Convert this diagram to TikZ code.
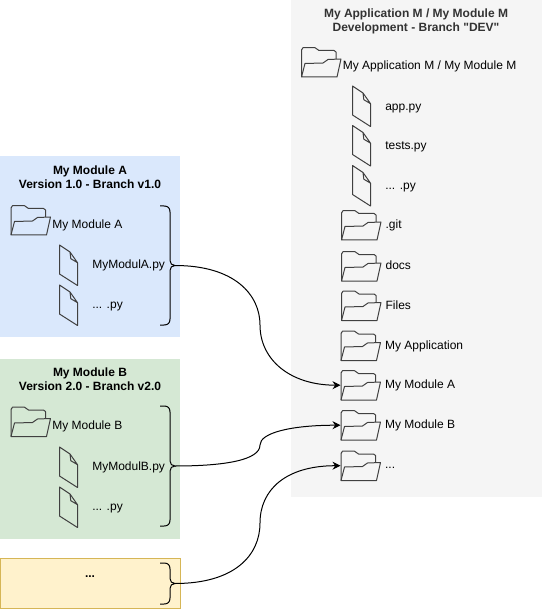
\documentclass[tikz,border=0pt]{standalone}
\usepackage{fontspec}
\setmainfont{Liberation Sans}[Ligatures=TeXOff]
\usepackage{xcolor}
\usetikzlibrary{arrows.meta, positioning}
\definecolor{panelgray}{HTML}{F5F5F5}
\definecolor{panelblue}{HTML}{DAE8FC}
\definecolor{panelgreen}{HTML}{D5E8D4}
\definecolor{panelyellow}{HTML}{FFF2CC}
\definecolor{borderyellow}{HTML}{D6B656}
\definecolor{iconline}{HTML}{404040}
\definecolor{titlegray}{HTML}{333333}
\tikzset{
    panel/.style={anchor=north west, inner sep=0pt, outer sep=0pt, minimum width=#1},
    paneltitle/.style={align=center, inner sep=0pt, font=\fontsize{12}{14}\selectfont\bfseries},
    itemlabel/.style={inner sep=0pt, text height=9pt, text depth=2.5pt, font=\fontsize{12}{14}\selectfont},
    iconstroke/.style={draw=iconline, line width=1pt, line join=round},
    bracket/.style={draw=black, line width=1pt},
    linkarrow/.style={draw=black, line width=1pt, -{Stealth[length=8pt, width=8pt]}}
}
% #1 extra keys for the text, #2 name, #3 position, #4 text
\newcommand{\foldericon}[4][]{%
    \node[anchor=north west, inner sep=0pt, minimum width=40pt, minimum height=30pt] (#2) at (#3) {};
    \draw[iconstroke, shift={(#2.north west)}]
        (0.5,30) -- (0.5,3) -- (2,0.7) -- (14,0.7) -- (18,3.5) -- (33,3.5) -- (35,5) -- (35,12);
    \draw[iconstroke, shift={(#2.north west)}]
        (0.5,30) -- (4,16.5) -- (22,16) -- (27,12.5) -- (40,12) -- (36,30) -- cycle;
    \node[itemlabel, right=4pt of #2, #1] (#2text) {#4};
}
\newcommand{\fileicon}[4][]{%
    \node[anchor=north west, inner sep=0pt, minimum width=18pt, minimum height=40pt] (#2) at (#3) {};
    \draw[iconstroke, shift={(#2.north west)}]
        (0,0) -- (10.5,7) -- (18,17.7) -- (18,40.5) -- (0,29) -- cycle
        (10.5,7) -- (11.3,13.7) -- (18,17.7);
    \node[itemlabel, right=14.2pt of #2, #1] (#2text) {#4};
}
% #1 name of the tip, #2 x, #3 top, #4 bottom
\newcommand{\rightbrace}[4]{%
    \coordinate (#1) at (#2+15,{(#3+#4)/2});
    \draw[bracket] (#2,#3) -- (#2+4,#3) .. controls (#2+8,#3) and (#2+10,#3+2) .. (#2+10,#3+6)
        -- (#2+10,{(#3+#4)/2-5}) .. controls (#2+10,{(#3+#4)/2-2}) and (#2+12,{(#3+#4)/2}) .. (#1)
        .. controls (#2+12,{(#3+#4)/2}) and (#2+10,{(#3+#4)/2+2}) .. (#2+10,{(#3+#4)/2+5})
        -- (#2+10,#4-6) .. controls (#2+10,#4-2) and (#2+8,#4) .. (#2+4,#4) -- (#2,#4);
}

\begin{document}
\begin{tikzpicture}[x=1pt, y=-1pt]
    \useasboundingbox (0,0) rectangle (542,609);

    % panels
    \node[panel=251pt, fill=panelgray, minimum height=497pt] (panelapp) at (291,0) {};
    \node[panel=180pt, fill=panelblue, minimum height=180pt] (panela) at (0,156.5) {};
    \node[panel=180pt, fill=panelgreen, minimum height=180pt] (panelb) at (0,358.5) {};
    \node[panel=180pt, fill=panelyellow, draw=borderyellow, line width=1pt, minimum height=50pt] (panelother) at (0.5,558.5) {};

    % titles
    \node[paneltitle, text=titlegray] (titleapp) at (416,21.5) {My Application M / My Module M\\Development - Branch "DEV"};
    \node[paneltitle] (titlea) at (90,177) {My Module A\\Version 1.0 - Branch v1.0};
    \node[paneltitle] (titleb) at (90,379) {My Module B\\Version 2.0 - Branch v2.0};
    \node[paneltitle] (titleother) at (90,576.5) {...};

    % application folder
    \foldericon[right=1.3pt of fapp, yshift=-4pt]{fapp}{301,47}{My Application M / My Module M}
    \fileicon[yshift=-1pt]{fileapp}{352.5,86}{app.py}
    \fileicon[yshift=-1pt]{filetests}{352.5,125.5}{tests.py}
    \fileicon[yshift=-1pt]{filedots}{352.5,165.5}{... .py}
    \foldericon{fgit}{341,210}{.git}
    \foldericon{fdocs}{341,251}{docs}
    \foldericon[yshift=-1pt]{ffiles}{341,290.5}{Files}
    \foldericon[yshift=-1pt]{fmyapp}{340.5,330.5}{My Application}
    \foldericon{fmodulea}{340.5,370}{My Module A}
    \foldericon{fmoduleb}{340.5,410}{My Module B}
    \foldericon{fmoduledots}{340.5,450.5}{...}

    % module A
    \foldericon[right=1.3pt of fa, yshift=-5pt]{fa}{10.5,205}{My Module A}
    \fileicon{filea}{59.5,245}{MyModulA.py}
    \fileicon{fileadots}{59.5,285}{... .py}
    \rightbrace{bracea}{160}{206}{325}

    % module B
    \foldericon[right=1.3pt of fb, yshift=-5pt]{fb}{10.5,406.5}{My Module B}
    \fileicon{fileb}{59.5,447}{MyModulB.py}
    \fileicon{filebdots}{59.5,487}{... .py}
    \rightbrace{braceb}{160}{406}{526}

    % others
    \rightbrace{braceother}{160}{563}{604}

    % links
    \draw[linkarrow] (bracea) .. controls +(60,0) and (260,295) .. (260,325)
        .. controls (260,360) and +(-50,0) .. (fmodulea.west);
    \draw[linkarrow] (braceb) .. controls +(50,0) and (260,460) .. (260,445)
        .. controls (260,433) and +(-50,0) .. (fmoduleb.west);
    \draw[linkarrow] (braceother) .. controls +(60,0) and (260,555) .. (260,523)
        .. controls (260,490) and +(-55,0) .. (fmoduledots.west);
\end{tikzpicture}
\end{document}
